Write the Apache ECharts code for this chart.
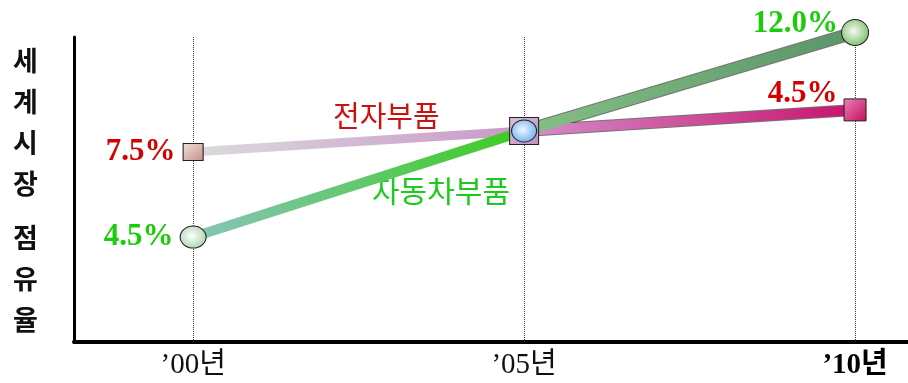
<!DOCTYPE html>
<html>
<head>
<meta charset="utf-8">
<script src="https://cdn.jsdelivr.net/npm/echarts@6/dist/echarts.min.js"></script>
<style>
    html, body {margin: 0; padding: 0; background: #fff;}
    #main {width: 908px; height: 383px;}
</style>
</head>
<body>
<div id="main"></div>
<script>
// years since 2000, their axis labels
const years = [0, 5, 10];
const yearLabels = ['’00년', '’05년', '’10년'];
// vertical position of each point (schematic, no scale shown)
const elecPos = [62.3, 69.2, 76.1];
const autoPos = [34.4, 69.2, 101.5];
// share texts written next to the points
const elecShare = ['7.5%', '', '4.5%'];
const autoShare = ['4.5%', '', '12.0%'];
const seriesNames = ['전자부품', '자동차부품'];
const yTitle = ['세계시장', '점유율'];

const chart = echarts.init(document.getElementById('main'));

const lin = (a, b) => new echarts.graphic.LinearGradient(0, 0, 1, 0, [
    {offset: 0, color: a}, {offset: 1, color: b}
]);
const diag = (a, b) => new echarts.graphic.LinearGradient(0, 0, 1, 1, [
    {offset: 0, color: a}, {offset: 1, color: b}
]);
const rad = (a, b) => new echarts.graphic.RadialGradient(0.45, 0.45, 0.6, [
    {offset: 0, color: a}, {offset: 1, color: b}
]);

const pctFont = {fontFamily: 'Liberation Serif', fontWeight: 'bold', fontSize: 31};

// one line series per segment so every segment gets its own gradient
function segment(data, i, color, width, border) {
    const pts = [[years[i], data[i]], [years[i + 1], data[i + 1]]];
    const out = [];
    if (border) {
        out.push({
            type: 'line', data: pts, showSymbol: false, silent: true, clip: false, z: 2,
            lineStyle: {width: width + 2, color: 'rgba(0,0,0,0.55)'}
        });
    }
    out.push({
        type: 'line', data: pts, showSymbol: false, silent: true, clip: false, z: 3,
        lineStyle: {width: width, color: color}
    });
    return out;
}

const elecMarks = [
    {symbol: 'rect', size: [20, 17], color: diag('#f2e0dc', '#c49088'), label: {position: 'left', distance: 7}},
    {symbol: 'rect', size: [29, 27], color: diag('#dcc0dc', '#b890b8')},
    {symbol: 'rect', size: [22, 22], color: diag('#f080b8', '#c0105e'), label: {position: 'left', distance: 6, offset: [0, -16]}}
];
const autoMarks = [
    {symbol: 'circle', size: [26, 22], color: rad('#ffffff', '#a8d2a8'), label: {position: 'left', distance: 6}},
    {symbol: 'circle', size: [25, 22], color: rad('#f0f8ff', '#6aacf0')},
    {symbol: 'circle', size: [27, 26], color: rad('#f4faf0', '#78bc68'), label: {position: 'left', distance: 3, offset: [0, -8]}}
];

function markers(data, share, marks, textColor, z) {
    return {
        type: 'scatter', z: z, clip: false,
        data: data.map((v, i) => ({
            value: [years[i], v],
            symbol: marks[i].symbol,
            symbolSize: marks[i].size,
            itemStyle: {color: marks[i].color, borderColor: '#222', borderWidth: 1, opacity: 1},
            label: Object.assign({
                show: share[i] !== '', formatter: share[i], color: textColor
            }, pctFont, marks[i].label || {})
        }))
    };
}

const option = {
    animation: false,
    grid: {left: 74, right: 0, top: 37, bottom: 41},
    xAxis: {
        type: 'value', min: -1.8, max: 10.8,
        axisLine: {show: true, onZero: false, lineStyle: {color: '#000', width: 4}},
        axisTick: {show: false},
        splitLine: {show: false},
        axisLabel: {
            customValues: years,
            margin: 9,
            formatter: v => {
                const i = years.indexOf(v);
                return i === years.length - 1 ? '{b|' + yearLabels[i] + '}' : '{n|' + yearLabels[i] + '}';
            },
            rich: {
                n: {fontFamily: 'Liberation Serif, Noto Sans CJK KR', fontSize: 29, color: '#111'},
                b: {fontFamily: 'Liberation Serif, Noto Sans CJK KR', fontSize: 29, fontWeight: 'bold', color: '#000'}
            }
        }
    },
    yAxis: {
        type: 'value', min: 0, max: 100,
        axisLine: {show: true, onZero: false, lineStyle: {color: '#000', width: 3}},
        axisTick: {show: false},
        axisLabel: {show: false},
        splitLine: {show: false}
    },
    graphic: [
        {type: 'text', left: 13, top: 40, style: {text: yTitle[0].split('').join('\n'), font: 'bold 27px "Noto Sans CJK KR"', lineHeight: 41, fill: '#111'}},
        {type: 'text', left: 13, top: 217, style: {text: yTitle[1].split('').join('\n'), font: 'bold 27px "Noto Sans CJK KR"', lineHeight: 41, fill: '#111'}},
        {type: 'text', left: 333, top: 101, style: {text: seriesNames[0], font: '29px "Noto Sans CJK KR"', fill: '#cc1111'}},
        {type: 'text', left: 372, top: 176, style: {text: seriesNames[1], font: '30px "Noto Sans CJK KR"', fill: '#1ccc1c'}}
    ],
    series: [
        {
            type: 'line', data: [], silent: true,
            markLine: {
                silent: true, symbol: 'none', label: {show: false},
                lineStyle: {type: 'dotted', color: '#333', width: 1},
                data: years.map(y => ({xAxis: y}))
            }
        },
        ...segment(elecPos, 0, lin('#dcdcdc', '#c896c8'), 9, false),
        ...segment(elecPos, 1, lin('#d490cc', '#c8106c'), 10, true),
        ...segment(autoPos, 0, lin('#88c4bc', '#3ccc1c'), 10, false),
        ...segment(autoPos, 1, lin('#86c086', '#5a9468'), 11, true),
        markers(elecPos, elecShare, elecMarks, '#d40000', 5),
        markers(autoPos, autoShare, autoMarks, '#1ccc0c', 6)
    ]
};

chart.setOption(option);
</script>
</body>
</html>
